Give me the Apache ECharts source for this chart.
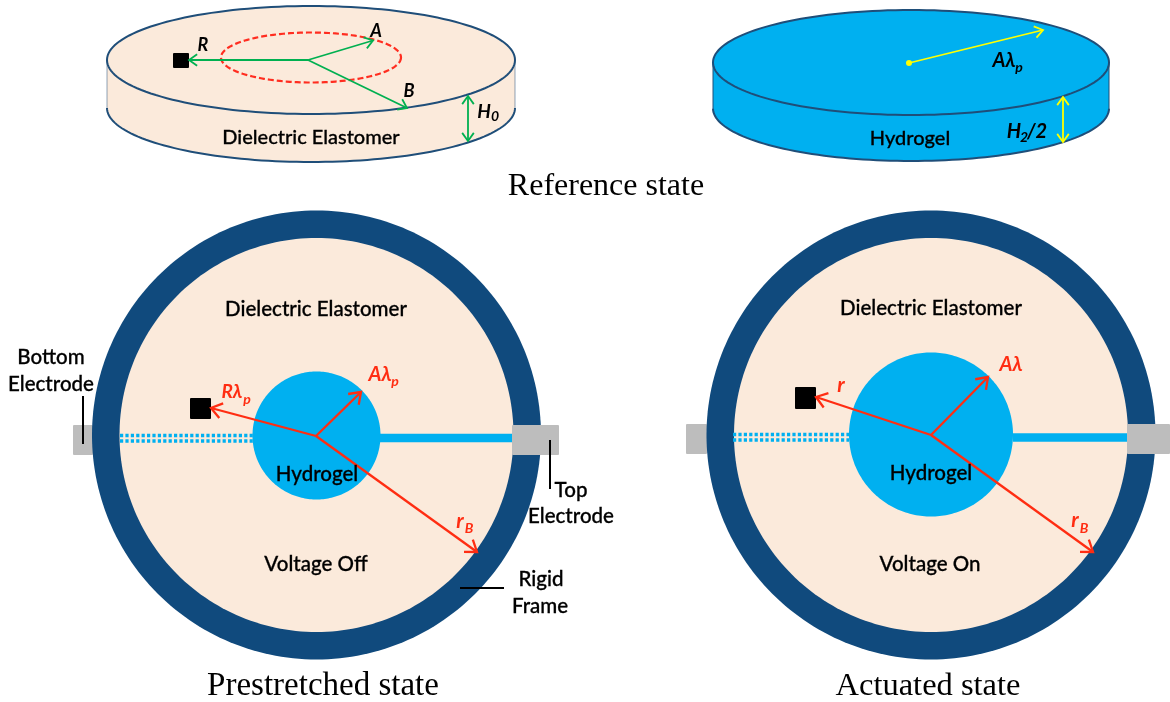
<!DOCTYPE html>
<html><head><meta charset="utf-8">
<style>html,body{margin:0;padding:0;background:#fff}#c{width:1170px;height:702px}</style>
<script src="https://cdn.jsdelivr.net/npm/echarts@6/dist/echarts.min.js"></script>
</head><body><div id="c"></div>
<script>
// Diagram geometry, in the picture's own units
const elastomerDisk = [[311, 60, 204, 54, 48]];        // cx, cy, rx, ry, thickness
const hydrogelDisk = [[911, 62.5, 198, 52.5, 46]];
const frameCircles = [[316.5, 435, 224.5], [931, 435, 224.5]];
const elastomerCircles = [[316.5, 435, 197], [931, 435, 197]];
const hydrogelCircles = [[316.5, 435.5, 64], [931, 434.5, 82]];
const dashedEllipse = [[311, 57.5, 90, 25]];
const backElectrodes = [[73, 425, 93, 455], [686, 424, 707, 454]];
const frontElectrodes = [[512, 425, 559, 455], [1127, 424, 1170, 454]];
const topStrips = [[380, 438, 513, 438], [1013, 437.5, 1128, 437.5]];
const bottomStrips = [[120, 435.5, 253, 435.5], [120, 441, 253, 441], [733, 434.5, 849, 434.5], [733, 440, 849, 440]];
const squares = [[173, 53, 189, 68], [190, 398, 211, 419], [795, 387, 816, 409]];
const greenArrows = [[308, 60, 189, 60, 0], [308, 60, 373, 40.5, 0], [308, 60, 407, 108, 0], [468, 96, 468, 141, 1]];
const yellowArrows = [[909, 63, 1043, 30, 0], [1063, 97, 1063, 142, 1]];
const redArrows = [[316, 436, 211, 408, 0], [316, 436, 361, 392, 0], [316, 436, 477, 552, 0],
                   [931, 435, 816, 397, 0], [931, 435, 988, 377, 0], [931, 435, 1093, 552, 0]];
const leaders = [[83, 396, 83, 444], [550, 440, 550, 489], [460, 588, 504, 588]];
const yellowDot = [[909, 63]];
const upperLabels = [[311, 138, 'Dielectric Elastomer'], [910, 139, 'Hydrogel']];
const labels = [[316, 309, 'Dielectric Elastomer'], [931, 308, 'Dielectric Elastomer'],
  [51, 357, 'Bottom'], [51, 384, 'Electrode'], [571, 490, 'Top'], [571, 516, 'Electrode'],
  [541, 579, 'Rigid'], [540, 606, 'Frame'], [317, 474, 'Hydrogel'], [931, 473, 'Hydrogel'],
  [316, 564, 'Voltage Off'], [930, 564, 'Voltage On']];
const captions = [[606, 187, 'Reference state', 32], [323, 686, 'Prestretched state', 33], [928, 686, 'Actuated state', 32.5]];
const blackSymbols = [[203, 45, 'R', 18], [376, 31, 'A', 18], [409, 91, 'B', 18], [484, 112, 'H', 19],
  [1004, 61, 'Aλ', 20], [1014, 132, 'H', 20], [1037, 132, '/2', 20]];
const blackSubs = [[495, 116, '0', 14], [1019, 67, 'p', 14], [1024, 137, '2', 14]];
const redSymbols = [[232, 392, 'Rλ', 19], [380, 375, 'Aλ', 20], [460, 521, 'r', 21], [841, 385, 'r', 21],
  [1011, 365, 'Aλ', 20], [1075, 520, 'r', 21]];
const redSubs = [[247, 399, 'p', 14], [395, 381, 'p', 14], [469, 528, 'B', 14], [1084, 528, 'B', 14]];

const SANS = 'Lato, "Open Sans", sans-serif', SERIF = '"Liberation Serif", serif';
const C = {frame:'#104a7d', tan:'#fbeadb', blue:'#00b0f0', gray:'#bdbdbd', red:'#ff2d12', green:'#00b050', yellow:'#ffff00', edge:'#1f4e79'};

function ell(api, cx, cy, rx, ry, from, to, n) {
  const pts = [];
  for (let i = 0; i <= n; i++) {
    const t = from + (to - from) * i / n;
    pts.push(api.coord([cx + rx * Math.cos(t), cy + ry * Math.sin(t)]));
  }
  return pts;
}
function custom(name, data, z, render) {
  return {type:'custom', name, data, z, silent:true, animation:false, clip:false,
    encode:{x:0, y:1}, renderItem:render};
}
const val = (api, n) => Array.from({length:n}, (_, i) => api.value(i));

const ellipseFill = (fill, stroke, lw, dash) => (p, api) => {
  const [cx, cy, rx, ry] = val(api, 4);
  return {type:'polygon', shape:{points:ell(api, cx, cy, rx, ry, 0, Math.PI*2, 160)},
    style:{fill, stroke, lineWidth:lw, lineDash:dash}};
};
const circleFill = fill => (p, api) => {
  const [cx, cy, r] = val(api, 3);
  return {type:'polygon', shape:{points:ell(api, cx, cy, r, r, 0, Math.PI*2, 240)}, style:{fill}};
};
const rect = fill => (p, api) => {
  const [x1, y1, x2, y2] = val(api, 4);
  const a = api.coord([x1, y1]), b = api.coord([x2, y2]);
  return {type:'rect', shape:{x:a[0], y:a[1], width:b[0]-a[0], height:b[1]-a[1], r:1}, style:{fill}};
};
const seg = (stroke, lw, dash, cap) => (p, api) => {
  const [x1, y1, x2, y2] = val(api, 4);
  const a = api.coord([x1, y1]), b = api.coord([x2, y2]);
  return {type:'line', shape:{x1:a[0], y1:a[1], x2:b[0], y2:b[1]}, style:{stroke, lineWidth:lw, lineDash:dash, lineCap:cap||'butt', fill:null}};
};
const arrow = (stroke, lw, head) => (p, api) => {
  const [x1, y1, x2, y2, both] = val(api, 5);
  const a = api.coord([x1, y1]), b = api.coord([x2, y2]);
  const st = {stroke, lineWidth:lw, fill:null, lineJoin:'miter', lineCap:'butt'};
  const headAt = (tip, tail) => {
    const ang = Math.atan2(tail[1]-tip[1], tail[0]-tip[0]), w = 0.62;
    return {type:'polyline', shape:{points:[
      [tip[0]+head*Math.cos(ang+w), tip[1]+head*Math.sin(ang+w)], tip,
      [tip[0]+head*Math.cos(ang-w), tip[1]+head*Math.sin(ang-w)]]}, style:st};
  };
  const children = [{type:'line', shape:{x1:a[0], y1:a[1], x2:b[0], y2:b[1]}, style:st}, headAt(b, a)];
  if (both) children.push(headAt(a, b));
  return {type:'group', children};
};
const textOf = (arr, font, fill, style, weight, size, bolden) => (p, api) => {
  const d = arr[p.dataIndex], c = api.coord([d[0], d[1]]);
  const s = {text:d[2], fill, align:'center', verticalAlign:'middle',
    font:`${style} ${weight} ${size || d[3]}px ${font}`};
  if (bolden) { s.stroke = fill; s.lineWidth = bolden; }
  return {type:'text', x:c[0], y:c[1], style:s};
};
const diskSide = (fill, stroke, edgeOpacity) => (p, api) => {
  const [cx, cy, rx, ry, h] = val(api, 5);
  const arc = ell(api, cx, cy+h, rx, ry, 0, Math.PI, 90);
  const tl = api.coord([cx-rx, cy]), tr = api.coord([cx+rx, cy]);
  return {type:'group', children:[
    {type:'polygon', shape:{points:[tr].concat(arc, [tl])}, style:{fill}},
    {type:'line', shape:{x1:tl[0], y1:tl[1], x2:tl[0], y2:tl[1]+h}, style:{stroke, lineWidth:1, opacity:edgeOpacity}},
    {type:'line', shape:{x1:tr[0], y1:tr[1], x2:tr[0], y2:tr[1]+h}, style:{stroke, lineWidth:1, opacity:edgeOpacity}},
    {type:'polyline', shape:{points:arc}, style:{stroke, lineWidth:2, fill:null}}
  ]};
};

const chart = echarts.init(document.getElementById('c'), null, {renderer:'canvas'});
chart.setOption({
  animation:false,
  backgroundColor:'#fff',
  grid:{left:0, right:0, top:0, bottom:0},
  xAxis:{type:'value', min:0, max:1170, show:false},
  yAxis:{type:'value', min:0, max:702, inverse:true, show:false},
  tooltip:{show:false},
  series:[
    custom('Elastomer disk side', elastomerDisk, 1, diskSide(C.tan, C.edge, 0.5)),
    custom('Elastomer disk top', elastomerDisk, 2, ellipseFill(C.tan, C.edge, 2)),
    custom('Hydrogel disk side', hydrogelDisk, 1, diskSide(C.blue, C.edge, 1)),
    custom('Hydrogel disk top', hydrogelDisk, 2, ellipseFill(C.blue, C.edge, 2)),
    custom('Bottom electrode', backElectrodes, 3, rect(C.gray)),
    custom('Rigid frame', frameCircles, 4, circleFill(C.frame)),
    custom('Elastomer', elastomerCircles, 5, circleFill(C.tan)),
    custom('Hydrogel', hydrogelCircles, 6, circleFill(C.blue)),
    custom('Top strip', topStrips, 6, seg(C.blue, 8.5)),
    custom('Bottom strip', bottomStrips, 6, seg(C.blue, 3.4, [3.2, 2.2])),
    custom('Top electrode', frontElectrodes, 7, rect(C.gray)),
    custom('Dashed circle', dashedEllipse, 8, ellipseFill('none', '#ff2d20', 2.2, [6, 3])),
    custom('Squares', squares, 8, rect('#000')),
    custom('Yellow dot', yellowDot, 8, (p, api) => {
      const c = api.coord([api.value(0), api.value(1)]);
      return {type:'circle', shape:{cx:c[0], cy:c[1], r:3}, style:{fill:C.yellow}};
    }),
    custom('Leaders', leaders, 9, seg('#000', 2)),
    custom('Green arrows', greenArrows, 9, arrow(C.green, 1.8, 10)),
    custom('Yellow arrows', yellowArrows, 9, arrow(C.yellow, 1.8, 10)),
    custom('Red arrows', redArrows, 9, arrow(C.red, 2.3, 13)),
    custom('Upper labels', upperLabels, 10, textOf(upperLabels, SANS, '#000', 'normal', 500, 20, 0.3)),
    custom('Labels', labels, 10, textOf(labels, SANS, '#000', 'normal', 500, 20.5, 0.3)),
    custom('Captions', captions, 10, textOf(captions, SERIF, '#000', 'normal', 'normal')),
    custom('Symbols', blackSymbols, 10, textOf(blackSymbols, SANS, '#000', 'italic', 'bold')),
    custom('Subscripts', blackSubs, 10, textOf(blackSubs, SANS, '#000', 'italic', 'bold')),
    custom('Red symbols', redSymbols, 10, textOf(redSymbols, SANS, C.red, 'italic', 'bold')),
    custom('Red subscripts', redSubs, 10, textOf(redSubs, SANS, C.red, 'italic', 'bold'))
  ]
});
</script></body></html>
